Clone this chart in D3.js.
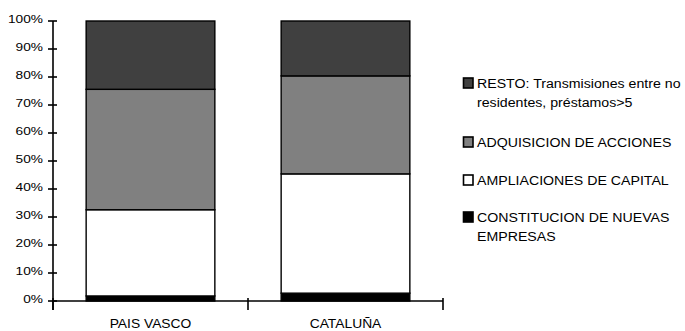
<!DOCTYPE html>
<html>
<head>
<meta charset="utf-8">
<script src="https://cdn.jsdelivr.net/npm/d3@7/dist/d3.min.js"></script>
<style>
  html, body { margin: 0; padding: 0; background: #fff; }
  svg { display: block; font-family: "Liberation Sans", Arial, sans-serif; }
</style>
</head>
<body>
<svg id="chart" width="685" height="331"></svg>
<script>
// Regions along the x axis
const categories = ["PAIS VASCO", "CATALUÑA"];

// Stacked shares (%) per region, bottom to top
const constitucion = [1.8, 2.8];
const ampliaciones = [30.8, 42.6];
const adquisicion  = [43.0, 35.0];
const resto        = [24.4, 19.6];

const seriesNames = [
  "CONSTITUCION DE NUEVAS EMPRESAS",
  "AMPLIACIONES DE CAPITAL",
  "ADQUISICION DE ACCIONES",
  "RESTO: Transmisiones entre no residentes, préstamos>5"
];
const seriesValues = [constitucion, ampliaciones, adquisicion, resto];
const seriesFills = ["#000000", "#ffffff", "#808080", "#404040"];

const yTicks = [0, 10, 20, 30, 40, 50, 60, 70, 80, 90, 100];

// Legend lines (top to bottom), each entry refers to a series index
const legendRows = [
  { series: 3, lines: ["RESTO: Transmisiones entre no", "residentes, préstamos>5"] },
  { series: 2, lines: ["ADQUISICION DE ACCIONES"] },
  { series: 1, lines: ["AMPLIACIONES DE CAPITAL"] },
  { series: 0, lines: ["CONSTITUCION DE NUEVAS", "EMPRESAS"] }
];

const svg = d3.select("#chart");
const plotLeft = 53, plotRight = 443, plotTop = 21, plotBottom = 301;

// Widen a text run horizontally by a factor, keeping its anchor point
function widen(sel, factor) {
  sel.each(function () {
    const len = this.getComputedTextLength();
    d3.select(this)
      .attr("textLength", len * factor)
      .attr("lengthAdjust", "spacingAndGlyphs");
  });
}

const x = d3.scaleBand().domain(categories).range([plotLeft, plotRight])
  .paddingInner(0.34).paddingOuter(0.17);
const y = d3.scaleLinear().domain([0, 100]).range([plotBottom, plotTop]);

// Build the stacked table
const table = categories.map((c, i) => {
  const row = { cat: c };
  seriesNames.forEach((s, k) => row[k] = seriesValues[k][i]);
  return row;
});
const stack = d3.stack().keys(d3.range(seriesNames.length));
const layers = stack(table);

const g = svg.append("g");
layers.forEach((layer, k) => {
  g.selectAll(null).data(layer).enter().append("rect")
    .attr("x", d => x(d.data.cat))
    .attr("width", x.bandwidth())
    .attr("y", d => y(d[1]))
    .attr("height", d => y(d[0]) - y(d[1]))
    .attr("fill", seriesFills[k])
    .attr("stroke", "#000")
    .attr("stroke-width", 1.4);
});

// Y axis with crossing ticks
const yAxis = svg.append("g");
yAxis.append("line")
  .attr("x1", plotLeft).attr("x2", plotLeft)
  .attr("y1", y(100)).attr("y2", plotBottom + 9)
  .attr("stroke", "#000").attr("stroke-width", 1.6);
yAxis.selectAll(".yt").data(yTicks).enter().append("line")
  .attr("x1", plotLeft - 5).attr("x2", plotLeft + 4)
  .attr("y1", d => y(d)).attr("y2", d => y(d))
  .attr("stroke", "#000").attr("stroke-width", 1.6);
yAxis.selectAll(".yl").data(yTicks).enter().append("text")
  .attr("x", plotLeft - 10).attr("y", d => y(d) + 1.5)
  .attr("text-anchor", "end")
  .attr("font-size", 11.6)
  .attr("fill", "#000")
  .text(d => d + "%")
  .call(widen, 1.18);

// X axis with category boundary ticks
const xAxis = svg.append("g");
xAxis.append("line")
  .attr("x1", plotLeft).attr("x2", plotRight)
  .attr("y1", plotBottom).attr("y2", plotBottom)
  .attr("stroke", "#000").attr("stroke-width", 1.3);
const bounds = [plotLeft, ...categories.slice(1).map(c => x(c) - x.step() * x.paddingInner() / 2), plotRight];
xAxis.selectAll(".xt").data(bounds).enter().append("line")
  .attr("x1", d => d).attr("x2", d => d)
  .attr("y1", plotBottom - 3).attr("y2", plotBottom + 9)
  .attr("stroke", "#000").attr("stroke-width", 1.6);
xAxis.selectAll(".xl").data(categories).enter().append("text")
  .attr("x", d => x(d) + x.bandwidth() / 2)
  .attr("y", 327.5)
  .attr("text-anchor", "middle")
  .attr("font-size", 12.8)
  .attr("fill", "#000")
  .text(d => d)
  .call(widen, 1.08);

// Legend
const legendTops = [78, 137, 175, 212];
const legend = svg.append("g");
legendRows.forEach((r, i) => {
  const ty = legendTops[i];
  legend.append("rect")
    .attr("x", 463.5).attr("y", ty)
    .attr("width", 9.5).attr("height", 10)
    .attr("fill", seriesFills[r.series])
    .attr("stroke", "#000").attr("stroke-width", 1.6);
  r.lines.forEach((line, j) => {
    legend.append("text")
      .attr("x", 477).attr("y", ty + 10 + j * 18.5)
      .attr("font-size", 12)
      .attr("fill", "#000")
      .text(line)
      .call(widen, 1.18);
  });
});
</script>
</body>
</html>
